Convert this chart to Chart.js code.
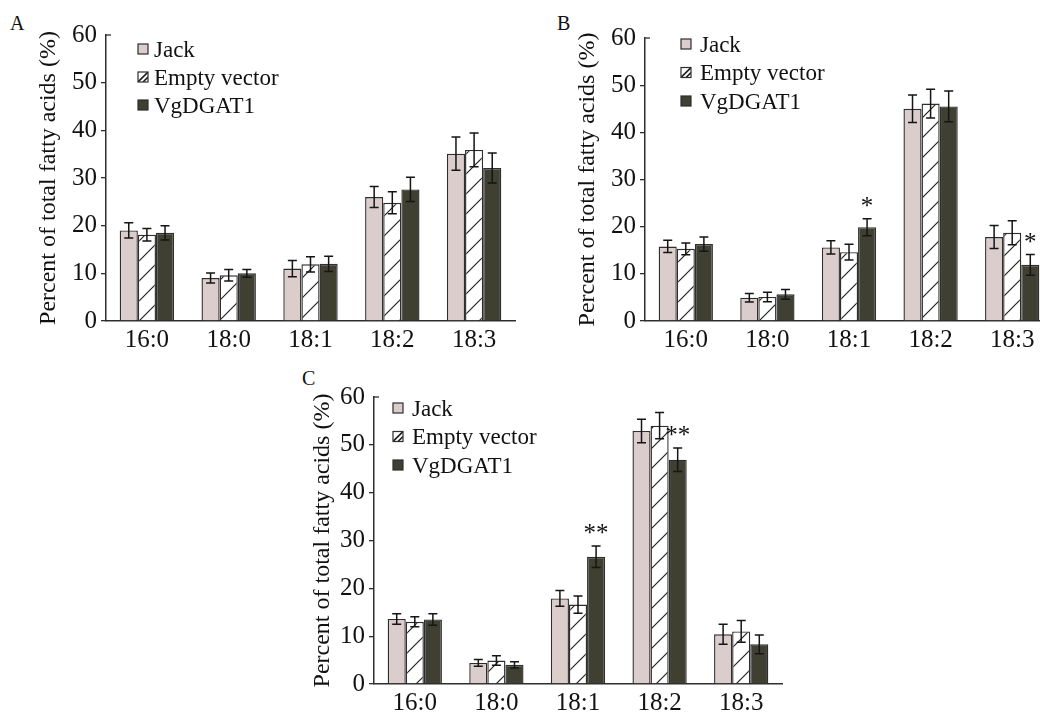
<!DOCTYPE html>
<html><head><meta charset="utf-8">
<script src="https://cdn.jsdelivr.net/npm/chart.js@4.4.1/dist/chart.umd.min.js"></script>
<style>
html,body{margin:0;padding:0;background:#fff;overflow:hidden;width:1040px;height:713px;position:relative;}
canvas{position:absolute;}
.lbl{position:absolute;font-family:"Liberation Serif","Times New Roman",serif;font-size:20px;line-height:1;color:#111;}
</style></head>
<body>
<div class="lbl" style="left:10px;top:13px">A</div>
<div class="lbl" style="left:557px;top:13px">B</div>
<div class="lbl" style="left:302px;top:368px">C</div>
<canvas id="cA" width="520" height="360" style="left:0px;top:0px;width:520px;height:360px"></canvas>
<canvas id="cB" width="540" height="360" style="left:520px;top:0px;width:540px;height:360px"></canvas>
<canvas id="cC" width="490" height="353" style="left:300px;top:360px;width:490px;height:353px"></canvas>
<script>
// ---- data ----
const categories = ['16:0', '18:0', '18:1', '18:2', '18:3'];
const seriesNames = ['Jack', 'Empty vector', 'VgDGAT1'];
const yTicks = [0, 10, 20, 30, 40, 50, 60];
const yTitle = 'Percent of total fatty acids (%)';

// Panel A
const jackA = [19.0, 9.0, 11.0, 26.0, 35.1];
const jackErrA = [1.6, 1.05, 1.7, 2.2, 3.5];
const evA = [18.1, 9.6, 11.9, 24.8, 35.9];
const evErrA = [1.3, 1.2, 1.6, 2.3, 3.55];
const vgA = [18.5, 10.0, 12.0, 27.6, 32.1];
const vgErrA = [1.5, 0.8, 1.6, 2.55, 3.15];
const sigA = ['', '', '', '', ''];

// Panel B
const jackB = [15.8, 4.95, 15.6, 45.0, 17.8];
const jackErrB = [1.3, 0.9, 1.4, 2.9, 2.45];
const evB = [15.3, 5.1, 14.6, 46.1, 18.7];
const evErrB = [1.25, 1.0, 1.65, 3.05, 2.55];
const vgB = [16.3, 5.65, 19.9, 45.5, 11.9];
const vgErrB = [1.5, 1.05, 1.8, 3.25, 2.2];
const sigB = ['', '', '*', '', '*'];

// Panel C
const jackC = [13.6, 4.4, 17.9, 52.9, 10.4];
const jackErrC = [1.1, 0.7, 1.65, 2.45, 2.1];
const evC = [13.0, 4.9, 16.6, 54.0, 11.0];
const evErrC = [1.05, 1.0, 1.8, 2.75, 2.25];
const vgC = [13.5, 4.0, 26.6, 46.9, 8.3];
const vgErrC = [1.2, 0.65, 2.25, 2.45, 1.95];
const sigC = ['', '', '**', '**', ''];

// ---- styles ----
const FONT = '"Liberation Serif", "Times New Roman", serif';
const jackColor = '#dacdcc';
const vgColor = '#3f4031';
const edgeColor = '#2e2e2e';
const inkColor = '#111111';

function makeHatch(ctx) {
  const s = 20, c = document.createElement('canvas');
  c.width = s; c.height = s;
  const g = c.getContext('2d');
  g.fillStyle = '#ffffff'; g.fillRect(0, 0, s, s);
  g.strokeStyle = '#222222'; g.lineWidth = 1.2;
  g.beginPath();
  g.moveTo(0, s); g.lineTo(s, 0);
  g.moveTo(-2, 2); g.lineTo(2, -2);
  g.moveTo(s - 2, s + 2); g.lineTo(s + 2, s - 2);
  g.stroke();
  return ctx.createPattern(c, 'repeat');
}

const decor = {
  id: 'decor',
  afterDatasetsDraw(chart) {
    const ctx = chart.ctx, y = chart.scales.y;
    ctx.save();
    chart.data.datasets.forEach((ds, i) => {
      const meta = chart.getDatasetMeta(i);
      meta.data.forEach((bar, j) => {
        const v = ds.data[j], e = ds.errors[j];
        const yt = y.getPixelForValue(v + e), yb = y.getPixelForValue(v - e);
        ctx.strokeStyle = '#151515'; ctx.lineWidth = 1.5;
        ctx.beginPath();
        ctx.moveTo(bar.x, yt); ctx.lineTo(bar.x, yb);
        ctx.moveTo(bar.x - 4.5, yt); ctx.lineTo(bar.x + 4.5, yt);
        ctx.moveTo(bar.x - 4.5, yb); ctx.lineTo(bar.x + 4.5, yb);
        ctx.stroke();
        if (ds.sig && ds.sig[j]) {
          ctx.fillStyle = inkColor;
          ctx.font = '25px ' + FONT;
          ctx.textAlign = 'center'; ctx.textBaseline = 'alphabetic';
          ctx.fillText(ds.sig[j], bar.x, yt - 17 + 12.3);
        }
      });
    });
    ctx.restore();
  },
  afterDraw(chart, args, opts) {
    const ctx = chart.ctx, a = chart.chartArea;
    ctx.save();
    // inward cap tick at top of y axis
    ctx.strokeStyle = edgeColor; ctx.lineWidth = 1.3;
    ctx.beginPath(); ctx.moveTo(a.left, a.top); ctx.lineTo(a.left + 5, a.top); ctx.stroke();
    // legend
    const fs = 23, bs = 10;
    seriesNames.forEach((name, k) => {
      const cy = a.top + opts.dy + k * opts.gap;
      const bx = a.left + opts.dx, by = cy - bs / 2;
      ctx.fillStyle = k === 0 ? jackColor : (k === 2 ? vgColor : '#ffffff');
      ctx.fillRect(bx, by, bs, bs);
      if (k === 1) {
        ctx.save();
        ctx.beginPath(); ctx.rect(bx, by, bs, bs); ctx.clip();
        ctx.strokeStyle = '#222'; ctx.lineWidth = 1.6;
        ctx.beginPath();
        ctx.moveTo(bx, by + bs); ctx.lineTo(bx + bs, by);
        ctx.moveTo(bx + 5, by + bs); ctx.lineTo(bx + bs, by + 5);
        ctx.stroke();
        ctx.restore();
      }
      ctx.strokeStyle = edgeColor; ctx.lineWidth = 1.2;
      ctx.strokeRect(bx, by, bs, bs);
      ctx.fillStyle = inkColor;
      ctx.font = fs + 'px ' + FONT;
      ctx.textAlign = 'left'; ctx.textBaseline = 'alphabetic';
      ctx.fillText(name, bx + opts.tx, cy + 0.331 * fs);
    });
    ctx.restore();
  }
};

function buildChart(id, vals, errs, sig, lay) {
  const canvas = document.getElementById(id);
  const ctx = canvas.getContext('2d');
  const hatch = makeHatch(ctx);
  const fills = [jackColor, hatch, vgColor];
  const datasets = seriesNames.map((name, k) => ({
    label: name,
    data: vals[k],
    errors: errs[k],
    sig: k === 2 ? sig : null,
    backgroundColor: fills[k],
    borderColor: edgeColor,
    borderWidth: 1.4,
    categoryPercentage: 0.665,
    barPercentage: 1.0
  }));
  return new Chart(ctx, {
    type: 'bar',
    data: { labels: categories, datasets },
    plugins: [decor],
    options: {
      responsive: false,
      animation: false,
      devicePixelRatio: 1,
      layout: { padding: { left: 0, right: lay.right, top: lay.top, bottom: 0 } },
      plugins: {
        legend: { display: false },
        tooltip: { enabled: false },
        decor: { dx: lay.ldx, dy: lay.ldy, gap: lay.lgap, tx: lay.ltx }
      },
      scales: {
        x: {
          type: 'category',
          grid: { display: false, drawTicks: false },
          border: { display: true, color: edgeColor, width: 1.5 },
          ticks: { color: inkColor, font: { family: FONT, size: 25 }, padding: 4, maxRotation: 0, autoSkip: false },
          afterFit: s => { s.height = lay.xh; }
        },
        y: {
          min: 0, max: 60,
          afterBuildTicks: s => { s.ticks = yTicks.map(v => ({ value: v })); },
          grid: {
            drawOnChartArea: false, drawTicks: true, tickLength: 5, lineWidth: 1.3,
            tickColor: c => (c.tick && c.tick.value === 60) ? 'rgba(0,0,0,0)' : edgeColor
          },
          border: { display: true, color: edgeColor, width: 1.5 },
          ticks: { color: inkColor, font: { family: FONT, size: 25 }, padding: 4 },
          title: {
            display: true, text: yTitle, color: inkColor,
            font: { family: FONT, size: 24 },
            padding: { top: lay.tpad, bottom: 0 }
          },
          afterFit: s => { s.width = lay.yw; }
        }
      }
    }
  });
}

buildChart('cA', [jackA, evA, vgA], [jackErrA, evErrA, vgErrA], sigA,
  { right: 5, top: 35, xh: 39, yw: 106, tpad: 34.6, ldx: 32, ldy: 14, lgap: 28, ltx: 16 });
buildChart('cB', [jackB, evB, vgB], [jackErrB, evErrB, vgErrB], sigB,
  { right: 7, top: 38, xh: 39, yw: 125, tpad: 53.6, ldx: 36, ldy: 6, lgap: 28.5, ltx: 19 });
buildChart('cC', [jackC, evC, vgC], [jackErrC, evErrC, vgErrC], sigC,
  { right: 8, top: 37, xh: 29, yw: 74, tpad: 8.6, ldx: 19, ldy: 11, lgap: 28.5, ltx: 19 });
</script>
</body></html>
